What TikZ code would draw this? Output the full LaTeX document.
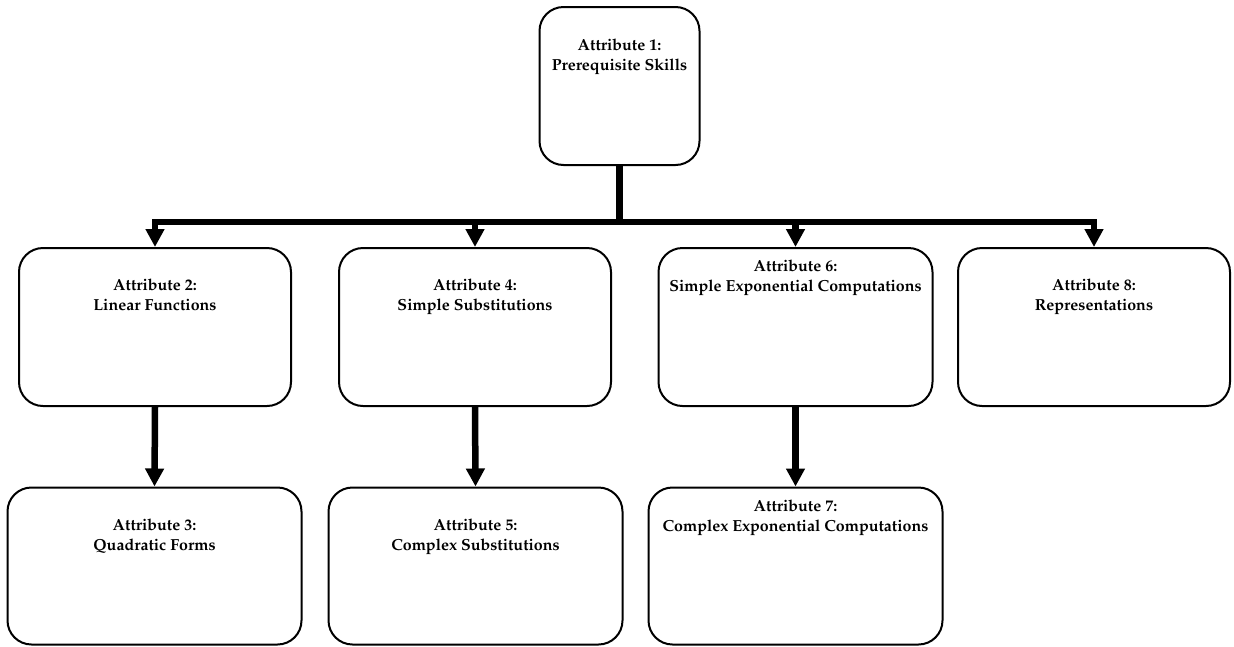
\documentclass[tikz,border=0pt]{standalone}
\usepackage[T1]{fontenc}
\usepackage{mathpazo}
\usepackage{tikz}
\usetikzlibrary{arrows.meta, positioning}

\begin{document}
\begin{tikzpicture}[x=1pt, y=-1pt,
    box/.style={draw, line width=2pt, rounded corners=24pt, minimum width=272pt, minimum height=158pt, inner sep=0pt},
    txt/.style={align=center, inner sep=0pt, font=\fontsize{16}{20}\selectfont\bfseries},
    link/.style={line width=6.5pt},
    tip/.style={line width=6.5pt, -{Triangle[width=18pt, length=18pt]}}]
    \useasboundingbox (0,0) rectangle (1234,646);
			% top box
			\node[box, minimum width=160pt] (b1) at (619.5,86) {};
			% second row
			\node[box] (b2) at (155,327) {};
			\node[box] (b4) at (475,327) {};
			\node[box, minimum width=274pt] (b6) at (795.5,327) {};
			\node[box] (b8) at (1094,327) {};
			% third row
			\node[box, minimum width=294pt, minimum height=157pt] (b3) at (154.5,566) {};
			\node[box, minimum width=294pt, minimum height=157pt] (b5) at (475.5,566) {};
			\node[box, minimum width=294pt, minimum height=157pt] (b7) at (795.5,566) {};
			% texts
			\node[txt, below=33pt of b1.north] (t1) {Attribute 1:\\Prerequisite Skills};
			\node[txt, below=32pt of b2.north] (t2) {Attribute 2:\\Linear Functions};
			\node[txt, below=32pt of b4.north] (t4) {Attribute 4:\\Simple Substitutions};
			\node[txt, below=13pt of b6.north] (t6) {Attribute 6:\\Simple Exponential Computations};
			\node[txt, below=32pt of b8.north] (t8) {Attribute 8:\\Representations};
			\node[txt, below=32pt of b3.north] (t3) {Attribute 3:\\Quadratic Forms};
			\node[txt, below=32pt of b5.north] (t5) {Attribute 5:\\Complex Substitutions};
			\node[txt, below=13pt of b7.north] (t7) {Attribute 7:\\Complex Exponential Computations};
			% connectors
			\coordinate (hub) at (619.5,222);
			\draw[link] (b1.south) -- (hub);
			\draw[link, line cap=rect] (b2.north |- hub) -- (b8.north |- hub);
			\foreach \b in {b2,b4,b6,b8}
				\draw[tip] (\b.north |- hub) -- (\b.north);
			\draw[tip] (b2.south) -- (b3.north);
			\draw[tip] (b4.south) -- (b5.north);
			\draw[tip] (b6.south) -- (b7.north);
\end{tikzpicture}
\end{document}
